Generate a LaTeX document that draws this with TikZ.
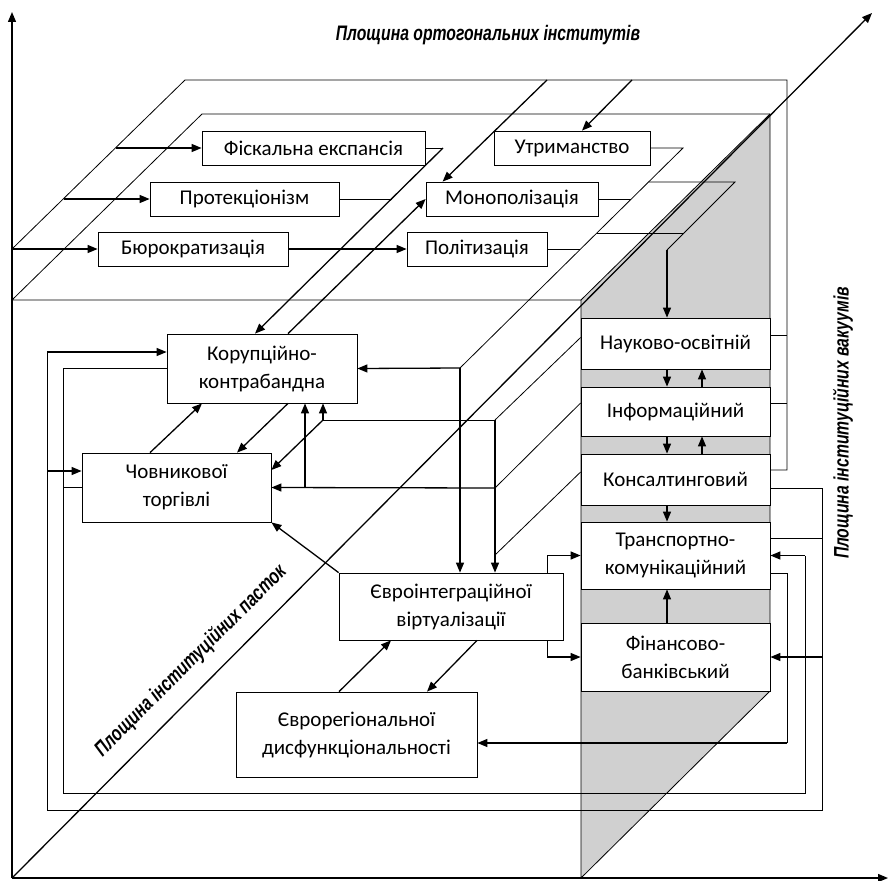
\documentclass[tikz,border=0pt]{standalone}
\usepackage{fontspec}
\setmainfont{Carlito}
\newfontfamily\planefont[FakeStretch=0.75]{Liberation Sans}
\usepackage{tikz}
\usetikzlibrary{arrows.meta}
\definecolor{facegray}{RGB}{208,208,208}

\begin{document}
\begin{tikzpicture}[
  x=1pt, y=-1pt,
  box/.style={draw, fill=white, line width=0.8pt, align=center, inner sep=0pt, font=\fontsize{21}{28}\selectfont},
  plane/.style={font=\planefont\bfseries\itshape\fontsize{21}{24}\selectfont},
  ln/.style={line width=0.8pt},
  arr/.style={-{Triangle[length=10pt,width=8pt]}, line width=1.3pt}
]
\useasboundingbox (0,0) rectangle (890,880);

\coordinate (o) at (12,878);
\coordinate (ay) at (12,12);
\coordinate (ax) at (888,878);
\coordinate (az) at (872,13);
\coordinate (k1) at (12,300);
\coordinate (k2) at (202,114);
\coordinate (k3) at (770,114);
\coordinate (k4) at (581,300);
\coordinate (k5) at (770,691);
\coordinate (k6) at (581,878);

\fill[facegray] (k4) -- (k3) -- (k5) -- (k6) -- cycle;
\draw[ln] (k1) -- (k2) -- (k3) -- (k5) -- (k6) -- (k4) -- cycle;
\draw[ln] (k4) -- (k3);
\draw[arr] (o) -- (ay);
\draw[arr] (o) -- (ax);
\draw[arr] (o) -- (az);

\node[box, minimum width=223pt, minimum height=34pt] (fisk) at (313.5,148) {Фіскальна експансія};
\node[box, minimum width=189pt, minimum height=34pt] (prot) at (244.5,199) {Протекціонізм};
\node[box, minimum width=190pt, minimum height=34pt] (bur) at (193,249) {Бюрократизація};
\node[box, minimum width=156pt, minimum height=34pt] (utr) at (572,148) {Утриманство};
\node[box, minimum width=172pt, minimum height=34pt] (mon) at (512,199) {Монополізація};
\node[box, minimum width=140pt, minimum height=34pt] (pol) at (477,249) {Політизація};

\node[box, minimum width=190pt, minimum height=69pt] (kor) at (262,368.5) {Корупційно-\\контрабандна};
\node[box, minimum width=189pt, minimum height=69pt] (chov) at (176.5,487.5) {Човникової\\торгівлі};
\node[box, minimum width=224pt, minimum height=67pt] (evi) at (451,606.5) {Євроінтеграційної\\віртуалізації};
\node[box, minimum width=241pt, minimum height=85pt] (evr) at (356.5,734.5) {Єврорегіональної\\дисфункціональності};

\node[box, minimum width=189pt, minimum height=51pt] (nauk) at (675.5,343.5) {Науково-освітній};
\node[box, minimum width=189pt, minimum height=49pt] (inf) at (675.5,411.5) {Інформаційний};
\node[box, minimum width=189pt, minimum height=51pt] (kons) at (675.5,479.5) {Консалтинговий};
\node[box, minimum width=189pt, minimum height=67pt] (trans) at (675.5,555.5) {Транспортно-\\комунікаційний};
\node[box, minimum width=189pt, minimum height=68pt] (fin) at (675.5,657) {Фінансово-\\банківський};

\node[plane] (lorth) at (488,35) {Площина ортогональних інститутів};
\node[plane, rotate=90] (lvac) at (843,423) {Площина інституційних вакуумів};
\node[plane, rotate=45] (ltrap) at (191,661) {Площина інституційних пасток};

\coordinate (b1) at (787,80);
\coordinate (b2) at (185,80);
\coordinate (b3) at (12,249);
\coordinate (f1) at (116,148);
\coordinate (p1) at (64,199);
\coordinate (t1) at (547,80);
\coordinate (t2) at (632,80);
\draw[ln] ([yshift=9.5pt]kons.east) -| (b1) -- (b2) -- (b3);
\draw[ln] ([yshift=8.5pt]nauk.east) -- ++(17,0);
\draw[ln] ([yshift=8.5pt]inf.east) -- ++(17,0);
\draw[arr] (b3) -- (bur.west);
\draw[arr] (p1) -- (prot.west);
\draw[arr] (f1) -- (fisk.west);
\draw[arr] (t1) -- ([xshift=17pt]mon.north west);
\draw[arr] (t2) -- ([xshift=10pt]utr.north);

\coordinate (s1) at (443,148);
\coordinate (s2) at (392,199);
\draw[ln] (fisk.east) -- (s1);
\draw[arr] (s1) -- ([xshift=-7pt]kor.north);
\draw[ln] (prot.east) -- (s2);
\draw[arr] ([xshift=26pt]kor.north) -- (mon.west);
\draw[arr] (bur.east) -- (pol.west);

\coordinate (u1) at (683,148);
\coordinate (u2) at (460,368);
\coordinate (m1) at (631,199);
\coordinate (q1) at (580,249);
\draw[ln] (utr.east) -- (u1) -- (u2);
\draw[arr] (u2) -- (kor.east);
\draw[arr] (u2) -- (u2 |- evi.north);
\draw[ln] (mon.east) -- (m1);
\draw[ln] (pol.east) -- (q1);

\coordinate (n1) at (649,182);
\coordinate (n2) at (735,182);
\coordinate (n3) at (667,250);
\coordinate (n4) at (597,233);
\coordinate (n5) at (684,233);
\draw[ln] (n1) -- (n2) -- (n3);
\draw[arr] (n3) -- (n3 |- nauk.north);
\draw[ln] (n4) -- (n5);

\foreach \a/\b in {nauk/inf, inf/kons} {
  \draw[arr] ([xshift=-8.5pt]\a.south) -- ([xshift=-8.5pt]\b.north);
  \draw[arr] ([xshift=26.5pt]\b.north) -- ([xshift=26.5pt]\a.south);
}
\draw[arr] ([xshift=-8.5pt]kons.south) -- ([xshift=-8.5pt]trans.north);
\draw[arr] ([xshift=-8.5pt]fin.north) -- ([xshift=-8.5pt]trans.south);

\coordinate (c1) at (822,810);
\coordinate (c2) at (47,810);
\coordinate (c3) at (47,352);
\coordinate (c4) at (47,471);
\draw[ln] ([yshift=-8.5pt]kons.east) -| (c1) -- (c2) -- (c3);
\draw[ln] ([yshift=17.5pt]trans.east) -- ++(52,0);
\draw[arr] (c3) -- ([yshift=16.5pt]kor.west);
\draw[arr] (c4) -- ([yshift=16.5pt]chov.west);
\draw[arr] (fin.east -| c1) -- (fin.east);

\coordinate (d1) at (63,793);
\coordinate (d2) at (805,793);
\draw[ln] (kor.west) -| (d1) -- (d2) -- (d2 |- trans.east);
\draw[arr] (d2 |- trans.east) -- (trans.east);
\draw[ln] (chov.west) -- (chov.west -| d1);

\coordinate (e1) at (787,743);
\draw[ln] ([yshift=-17.5pt]trans.east) -| (e1);
\draw[arr] (e1) -- ([yshift=-8.5pt]evr.east);

\draw[arr] ([xshift=-16pt]evi.north east) |- (trans.west);
\draw[arr] ([xshift=-16pt]evi.south east) |- (fin.west);

\coordinate (g1) at (495,420);
\coordinate (g2) at (495,488);
\coordinate (g3) at (495,555);
\coordinate (h1) at (323,420);
\coordinate (h2) at (305,488);
\draw[ln] ([yshift=6pt]nauk.west) -- (g1);
\draw[ln] ([yshift=8.5pt]inf.west) -- (g2);
\draw[ln] ([yshift=7.5pt]kons.west) -- (g3);
\draw[arr] (g1) -- (g1 |- evi.north);
\draw[ln] (g1) -- (h1);
\draw[arr] (h1) -- (h1 |- kor.south);
\draw[arr] (h1) -- ([yshift=17.5pt]chov.east);
\draw[arr] (g2) -- (chov.east);
\draw[arr] (h2) -- (h2 |- kor.south);

\draw[arr] ([xshift=26pt]kor.south) -- ([xshift=60.5pt]chov.north);
\draw[arr] ([xshift=-26.5pt]chov.north) -- ([xshift=-60pt]kor.south);
\draw[arr] (evi.north west) -- (chov.south east);
\draw[arr] ([xshift=-17.5pt]evr.north) -- ([xshift=-60pt]evi.south);
\draw[arr] ([xshift=26pt]evi.south) -- ([xshift=70.5pt]evr.north);
\end{tikzpicture}
\end{document}
